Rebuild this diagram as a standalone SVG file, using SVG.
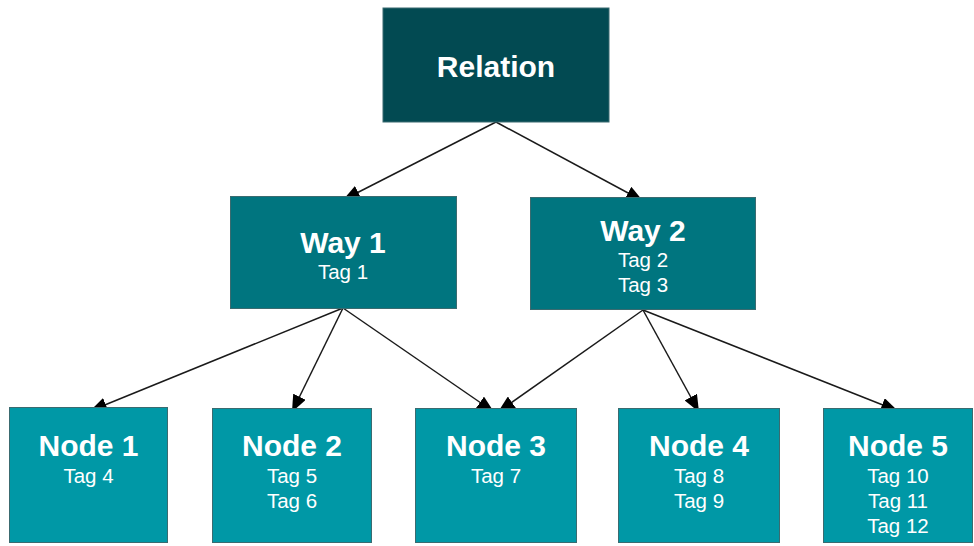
<svg xmlns="http://www.w3.org/2000/svg" width="974" height="546" viewBox="0 0 974 546">
  <style>
    .box { stroke: #3a6b70; stroke-width: 1; }
    .rel { fill: #024a52; }
    .way { fill: #00757f; }
    .node { fill: #0098a6; }
    .title { font-family: "Liberation Sans", Arial, sans-serif; font-weight: bold; font-size: 30px; fill: #ffffff; text-anchor: middle; }
    .tag { font-family: "Liberation Sans", Arial, sans-serif; font-size: 20.5px; fill: #ffffff; text-anchor: middle; }
    .link { stroke: #1a1a1a; stroke-width: 1.5; fill: none; marker-end: url(#arrow); }
  </style>
  <defs>
    <marker id="arrow" viewBox="0 0 17 14" refX="17" refY="7" markerWidth="17" markerHeight="14" markerUnits="userSpaceOnUse" orient="auto">
      <path d="M0,0 L17,7 L0,14 z" fill="#000000"/>
    </marker>
  </defs>
  <rect width="974" height="546" fill="#ffffff"/>

  <!-- connectors: drawn first so the boxes sit over the arrow tips -->
  <g id="connectors">
    <line class="link" x1="496" y1="122" x2="343" y2="200"/>
    <line class="link" x1="496" y1="122" x2="643" y2="201"/>

    <line class="link" x1="343" y1="308" x2="90" y2="411"/>
    <line class="link" x1="343" y1="308" x2="292" y2="412"/>
    <line class="link" x1="343" y1="308" x2="494" y2="412"/>

    <line class="link" x1="643" y1="310" x2="498" y2="412"/>
    <line class="link" x1="643" y1="310" x2="699" y2="412"/>
    <line class="link" x1="643" y1="310" x2="898" y2="411"/>
  </g>

  <g id="relation">
    <rect class="box rel" x="383" y="8" width="226" height="114"/>
    <text class="title" x="496" y="77">Relation</text>
  </g>

  <g id="way1">
    <rect class="box way" x="230.5" y="196.5" width="226" height="112"/>
    <text class="title" x="343" y="253">Way 1</text>
    <text class="tag" x="343" y="279">Tag 1</text>
  </g>

  <g id="way2">
    <rect class="box way" x="530.5" y="197.5" width="225" height="112"/>
    <text class="title" x="643" y="241">Way 2</text>
    <text class="tag" x="643" y="267">Tag 2</text>
    <text class="tag" x="643" y="292">Tag 3</text>
  </g>

  <g id="node1">
    <rect class="box node" x="9.5" y="407.5" width="158" height="135"/>
    <text class="title" x="88.5" y="456">Node 1</text>
    <text class="tag" x="88.5" y="483">Tag 4</text>
  </g>

  <g id="node2">
    <rect class="box node" x="212.5" y="408.5" width="159" height="134"/>
    <text class="title" x="292" y="456">Node 2</text>
    <text class="tag" x="292" y="483">Tag 5</text>
    <text class="tag" x="292" y="508">Tag 6</text>
  </g>

  <g id="node3">
    <rect class="box node" x="415.5" y="408.5" width="161" height="134"/>
    <text class="title" x="496" y="456">Node 3</text>
    <text class="tag" x="496" y="483">Tag 7</text>
  </g>

  <g id="node4">
    <rect class="box node" x="618.5" y="408.5" width="161" height="134"/>
    <text class="title" x="699" y="456">Node 4</text>
    <text class="tag" x="699" y="483">Tag 8</text>
    <text class="tag" x="699" y="508">Tag 9</text>
  </g>

  <g id="node5">
    <rect class="box node" x="823.5" y="408.5" width="149" height="134"/>
    <text class="title" x="898" y="456">Node 5</text>
    <text class="tag" x="898" y="483">Tag 10</text>
    <text class="tag" x="898" y="508">Tag 11</text>
    <text class="tag" x="898" y="533">Tag 12</text>
  </g>
</svg>
